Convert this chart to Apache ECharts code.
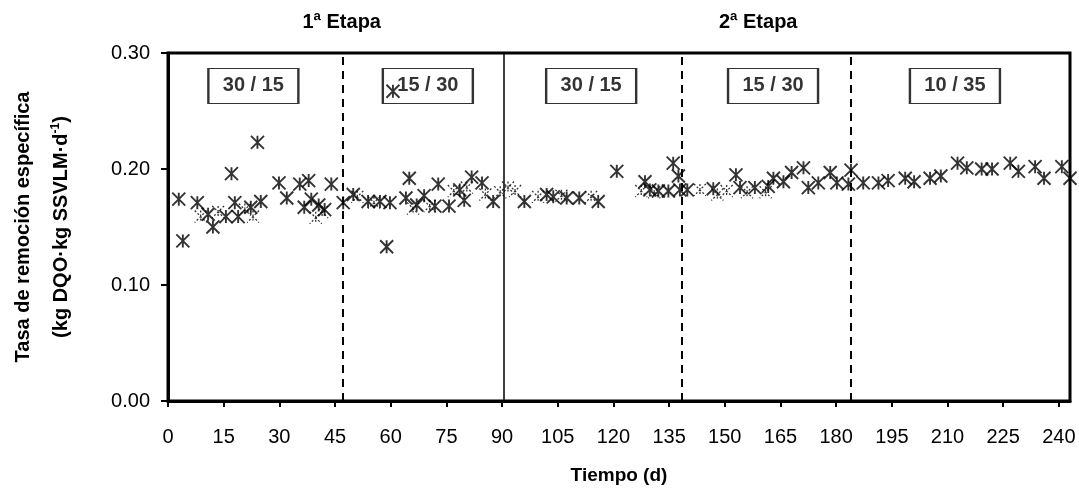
<!DOCTYPE html>
<html>
<head>
<meta charset="utf-8">
<script src="https://cdn.jsdelivr.net/npm/echarts@6/dist/echarts.min.js"></script>
<style>
  html, body { margin: 0; padding: 0; background: #fff; }
  #chart { width: 1079px; height: 493px; }
</style>
</head>
<body>
<div id="chart"></div>
<script>
// solid markers (day, rate)
const days = [2.9, 4.0, 7.9, 10.8, 12.1, 15.6, 17.1, 18.0, 18.9, 22.3, 24.1, 25.0, 29.9, 32.0, 35.5, 37.9, 38.6, 36.7, 40.6, 44.0, 42.2,
  47.2, 49.9, 53.9, 57.1, 59.8, 58.9, 60.6, 64.1, 65.0, 67.0, 69.0, 71.9, 72.8, 75.7, 79.8, 78.6, 81.8, 84.6, 87.6,
  96.0, 102, 103.8, 107.4, 110.8, 115.9, 120.9, 128.5, 129.8, 132.1, 134.8, 136.1, 137.5, 137.9,
  139.9, 146.9, 153.0, 154.1, 158.1, 161.7, 163.1, 165.8, 168, 171.2, 175.2, 172.5, 178.4, 180.2, 183.3,
  184, 187.3, 191.4, 194, 198.6, 201, 205.3, 208.2, 212.7, 215.2, 219.2, 222, 226.9, 229.1, 233.6, 236, 240.8, 243];
const rates = [0.174, 0.138, 0.171, 0.161, 0.150, 0.159, 0.196, 0.171, 0.159, 0.167, 0.223, 0.172, 0.188, 0.175, 0.187, 0.190, 0.174, 0.167, 0.169, 0.187, 0.165,
  0.171, 0.178, 0.172, 0.172, 0.171, 0.133, 0.267, 0.175, 0.192, 0.169, 0.177, 0.168, 0.187, 0.168, 0.173, 0.182, 0.193, 0.188, 0.172,
  0.172, 0.178, 0.176, 0.175, 0.175, 0.172, 0.198, 0.189, 0.182, 0.181, 0.181, 0.205, 0.194, 0.182,
  0.182, 0.183, 0.195, 0.184, 0.184, 0.185, 0.192, 0.189, 0.197, 0.201, 0.188, 0.184, 0.197, 0.188, 0.187,
  0.199, 0.188, 0.188, 0.190, 0.192, 0.189, 0.192, 0.194, 0.205, 0.201, 0.200, 0.200, 0.205, 0.198, 0.202, 0.192, 0.202, 0.192];

// partly hidden markers
const ghostDays = [8.8, 13.5, 20.7, 22.9, 39.8, 41.5, 51, 55.5, 66, 70.5, 77, 80.5, 85.5, 89.5, 91.6, 93.5, 99.7, 106, 114, 127.5, 131, 143.3, 150.5, 148, 156, 161];
const ghostRates = [0.159, 0.163, 0.165, 0.159, 0.158, 0.163, 0.176, 0.171, 0.166, 0.168, 0.181, 0.184, 0.178, 0.180, 0.184, 0.181, 0.176, 0.177, 0.176, 0.181, 0.180, 0.182, 0.181, 0.178, 0.180, 0.180];

const phaseLabels = ['30 / 15', '15 / 30', '30 / 15', '15 / 30', '10 / 35'];
const phaseCenters = [23, 70, 114, 163, 212];
const phaseLevel = 0.2716;

const stageBounds = [47.2, 90.5, 138.5, 184];
const stageSolid = [false, true, false, false];
const stageTitles = ['1ª Etapa', '2ª Etapa'];
const stageTitleDays = [46.8, 159];

const FONT = 'Liberation Sans, Arial, sans-serif';
const star = 'path://M0 0L10 10M10 0L0 10M5 0L5 10';

const chart = echarts.init(document.getElementById('chart'));

const option = {
  animation: false,
  grid: {
    left: 168, right: 9, top: 53, bottom: 92,
    show: true, borderColor: '#000', borderWidth: 3, backgroundColor: 'transparent'
  },
  xAxis: {
    type: 'value', min: 0, max: 243, interval: 15,
    name: 'Tiempo (d)', nameLocation: 'middle', nameGap: 65, nameMoveOverlap: false,
    nameTextStyle: { fontFamily: FONT, fontWeight: 'bold', fontSize: 19, color: '#000' },
    axisLine: { show: true, lineStyle: { color: '#000', width: 3 } },
    axisTick: { show: true, length: 6, lineStyle: { color: '#000', width: 2 } },
    axisLabel: {
      fontFamily: FONT, fontSize: 20, color: '#000', margin: 26,
      showMaxLabel: false,
      formatter: v => (v % 15 === 0 ? String(v) : '')
    },
    splitLine: { show: false }
  },
  yAxis: {
    type: 'value', min: 0, max: 0.3, interval: 0.1,
    name: '{a|Tasa de remoción específica}\n{a|(kg DQO·kg SSVLM·d}{s|-1}{a|)}',
    nameLocation: 'middle', nameGap: 88, nameRotate: 90, nameMoveOverlap: false,
    nameTextStyle: {
      rich: {
        a: { fontFamily: FONT, fontWeight: 'bold', fontSize: 20, color: '#000', lineHeight: 38 },
        s: { fontFamily: FONT, fontWeight: 'bold', fontSize: 12, color: '#000', lineHeight: 38, padding: [0, 0, 10, 0] }
      }
    },
    axisLine: { show: true, lineStyle: { color: '#000', width: 3 } },
    axisTick: { show: true, length: 7, lineStyle: { color: '#000', width: 2 } },
    axisLabel: {
      fontFamily: FONT, fontSize: 20, color: '#000', margin: 18,
      formatter: v => v.toFixed(2)
    },
    splitLine: { show: false }
  },
  series: [
    {
      type: 'scatter', name: 'phases', silent: true, z: 1,
      data: phaseCenters.map(d => [d, phaseLevel]),
      symbol: 'rect', symbolSize: [90, 35],
      itemStyle: { color: '#fff', borderColor: '#000', borderWidth: 1.5 },
      label: {
        show: true, position: 'inside',
        formatter: p => phaseLabels[p.dataIndex],
        fontFamily: FONT, fontWeight: 'bold', fontSize: 20, color: '#000'
      },
      markLine: {
        silent: true, symbol: 'none', animation: false,
        label: { show: false },
        data: stageBounds.map((d, i) => ({
          xAxis: d,
          lineStyle: { color: '#000', width: stageSolid[i] ? 1.5 : 2, type: stageSolid[i] ? 'solid' : [8, 6] }
        }))
      }
    },
    {
      type: 'scatter', name: 'ghost', silent: true, z: 2,
      data: ghostDays.map((d, i) => [d, ghostRates[i]]),
      symbol: star, symbolSize: 12,
      itemStyle: { color: 'none', borderColor: '#000', borderWidth: 1.3, borderType: [2, 2] }
    },
    {
      type: 'scatter', name: 'rate', z: 3,
      data: days.map((d, i) => [d, rates[i]]),
      symbol: star, symbolSize: 13,
      itemStyle: { color: 'none', borderColor: '#000', borderWidth: 1.9 }
    }
  ]
};

chart.setOption(option);

const titleGraphics = stageTitles.map((t, i) => {
  const px = chart.convertToPixel({ gridIndex: 0 }, [stageTitleDays[i], 0.3]);
  return {
    type: 'text', x: px[0], y: 22,
    style: {
      text: t, fontFamily: FONT, fontWeight: 'bold', fontSize: 20, fill: '#000',
      align: 'center', verticalAlign: 'middle'
    }
  };
});
chart.setOption({ graphic: titleGraphics });
</script>
</body>
</html>
